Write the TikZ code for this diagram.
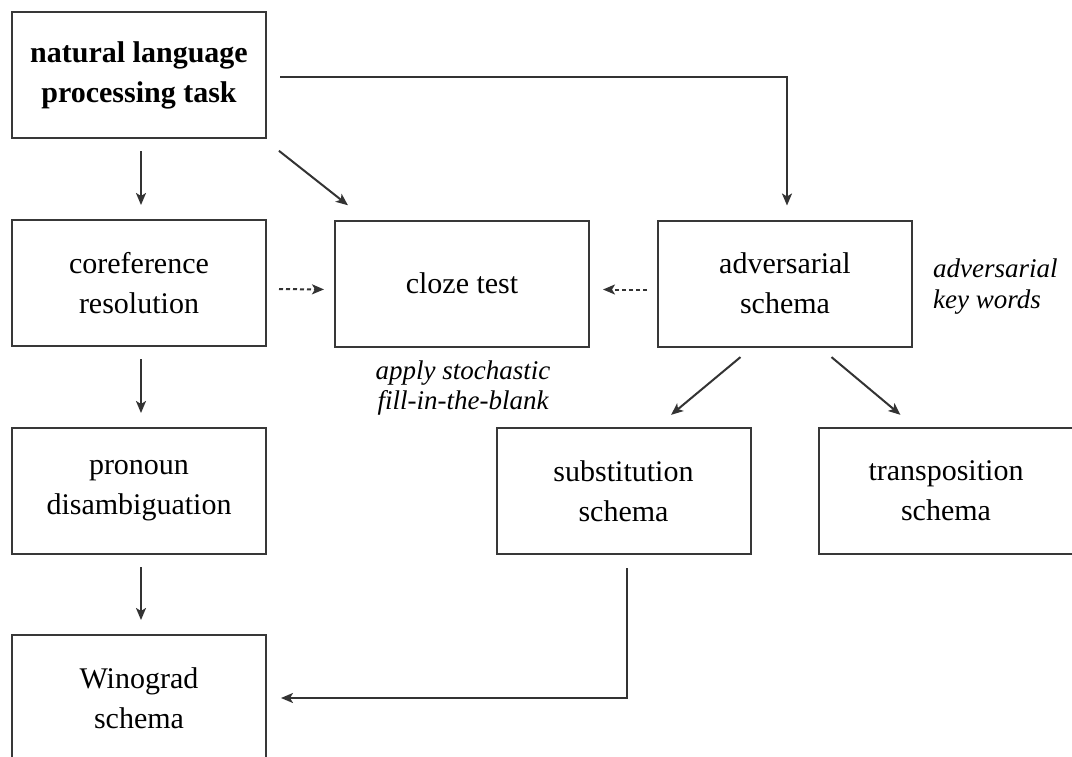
\documentclass[tikz,border=0pt]{standalone}
\usepackage{fontspec}
\setmainfont{Liberation Serif}
\usetikzlibrary{positioning}
\usetikzlibrary{arrows.meta}

\begin{document}
\begin{tikzpicture}[x=1pt,y=-1pt
    ,task/.style={draw=black!78,line width=2pt
                 ,minimum width=254pt,minimum height=126pt
                 ,align=center,font=\fontsize{30}{40}\selectfont}
    ,note/.style={inner sep=3pt,font=\fontsize{27}{31}\selectfont\itshape}
    ,link/.style={-{Stealth[length=12pt,width=10pt,inset=3pt]},black!80,line width=2pt}
    ,hint/.style={dash pattern=on 4pt off 3pt}]
  \useasboundingbox (0,0) rectangle (1072,756);

  \node[task] (nlp)   at (139,75)    {\textbf{natural language}\\\textbf{processing task}};
  \node[task] (coref) at (139,283)   {coreference\\resolution};
  \node[task] (cloze) at (462,283.5) {cloze test};
  \node[task] (adv)   at (785,283.5) {adversarial\\schema};
  \node[task] (pron)  at (139,491)   {pronoun\\disambiguation};
  \node[task] (subst) at (623.5,491) {substitution\\schema};
  \node[task] (trans) at (946,491)   {transposition\\schema};
  \node[task] (wino)  at (139,698)   {Winograd\\schema};

  \node[note,anchor=west,align=left] (keys) at (930,287) {adversarial\\key words};
  \node[note,align=center] (blank) at (463,388) {apply stochastic\\fill-in-the-blank};

  \path[link]
    ([xshift=2pt]nlp.south) edge[shorten <=12pt,shorten >=14pt] ([xshift=2pt]coref.north)
    ([xshift=2pt]coref.south) edge[shorten <=12pt,shorten >=14pt] ([xshift=2pt]pron.north)
    ([xshift=2pt]pron.south) edge[shorten <=12pt,shorten >=14pt] ([xshift=2pt]wino.north)
    ([xshift=125pt]nlp.south) edge[shorten <=19pt,shorten >=23pt] ([xshift=-96pt]cloze.north)
    ([yshift=-6pt]coref.east) edge[hint,shorten <=12pt,shorten >=10pt] ([yshift=-6pt]cloze.west)
    ([yshift=-6pt]adv.west) edge[hint,shorten <=10pt,shorten >=13pt] ([yshift=-6pt]cloze.east)
    ([xshift=-33pt]adv.south) edge[shorten <=15pt,shorten >=19pt] ([xshift=33pt]subst.north)
    ([xshift=35pt]adv.south) edge[shorten <=15pt,shorten >=19pt] ([xshift=-31pt]trans.north)
    ;
  \draw[link,shorten <=13pt,shorten >=14pt] ([yshift=-2pt]nlp.east) -| ([xshift=2pt]adv.north);
  \draw[link,shorten <=13pt,shorten >=14pt] ([xshift=3pt]subst.south) |- (wino.east);
\end{tikzpicture}
\end{document}
